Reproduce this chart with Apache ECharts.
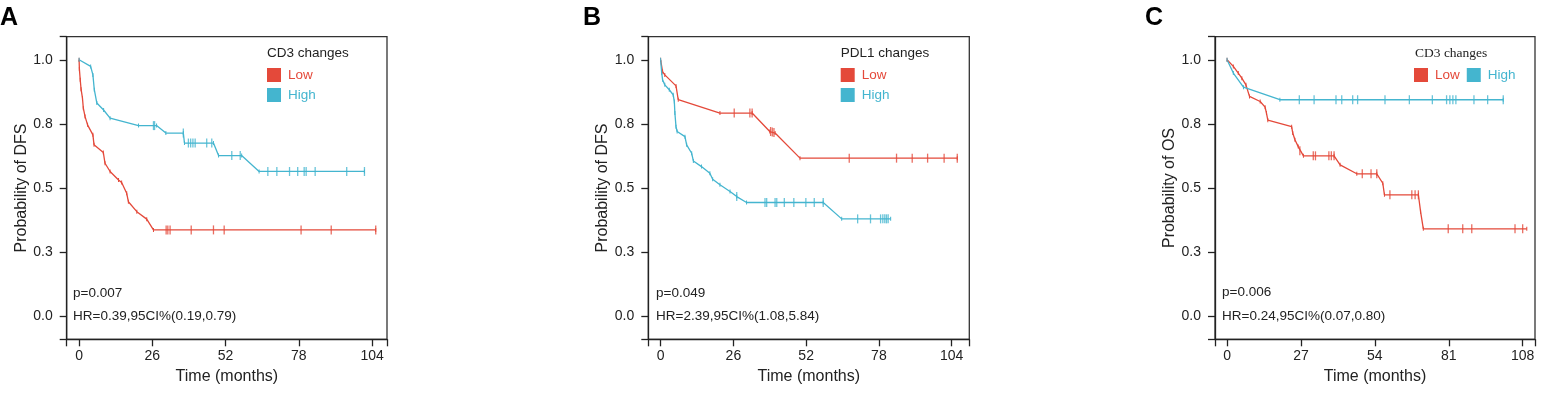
<!DOCTYPE html>
<html>
<head>
<meta charset="utf-8">
<script src="https://cdn.jsdelivr.net/npm/echarts@6/dist/echarts.min.js"></script>
<style>
  html, body { margin: 0; padding: 0; background: #fff; }
  #main { width: 1544px; height: 393px; }
</style>
</head>
<body>
<div id="main"></div>
<script>
// ---- data: [time (months), survival probability] ----
// panel A: CD3 changes, DFS
const aLowCurve = [[0, 1], [0.1, 0.964], [0.4, 0.922], [0.7, 0.885], [1.2, 0.85], [1.5, 0.811], [2.1, 0.779], [3.0, 0.746], [4.9, 0.707], [5.3, 0.668], [8.6, 0.638], [9.2, 0.596], [11, 0.564], [14, 0.531], [15.1, 0.521], [16.9, 0.479], [17.5, 0.446], [20.5, 0.407], [24, 0.378], [26.4, 0.336], [105.3, 0.336]]
const aLowCensor = [[30.9, 0.336], [31.5, 0.336], [32.3, 0.336], [39.8, 0.336], [47.7, 0.336], [51.5, 0.336], [78.8, 0.336], [89.5, 0.336], [105.3, 0.336]]
const aHighCurve = [[0, 1], [4.1, 0.974], [4.9, 0.941], [5.4, 0.883], [6.3, 0.831], [8.7, 0.804], [11, 0.772], [21.1, 0.743], [27.5, 0.743], [30.8, 0.714], [37, 0.714], [37.4, 0.675], [47.7, 0.675], [49.5, 0.626], [57.7, 0.626], [63.9, 0.564], [101.3, 0.564]]
const aHighCensor = [[26.4, 0.743], [26.8, 0.743], [37, 0.714], [38.8, 0.675], [39.6, 0.675], [40.4, 0.675], [41.2, 0.675], [45.3, 0.675], [47.1, 0.675], [54.2, 0.626], [57.2, 0.626], [67, 0.564], [70.2, 0.564], [74.7, 0.564], [77.6, 0.564], [79.9, 0.564], [80.6, 0.564], [83.8, 0.564], [95, 0.564], [101.3, 0.564]]

// panel B: PDL1 changes, DFS
const bLowCurve = [[0, 1], [0.7, 0.954], [1.5, 0.941], [5.5, 0.898], [6.3, 0.844], [21.2, 0.792], [32.7, 0.792], [39, 0.72], [40.9, 0.714], [49.8, 0.616], [106, 0.616]]
const bLowCensor = [[26.3, 0.792], [31.9, 0.792], [32.7, 0.792], [39.3, 0.72], [39.9, 0.718], [40.5, 0.716], [67.4, 0.616], [84.3, 0.616], [89.9, 0.616], [95.4, 0.616], [101.3, 0.616], [106, 0.616]]
const bHighCurve = [[0, 1], [0.4, 0.948], [0.7, 0.922], [1.5, 0.902], [3.1, 0.883], [4.5, 0.863], [4.9, 0.837], [5.1, 0.792], [5.5, 0.739], [5.9, 0.72], [8.7, 0.7], [9.3, 0.668], [11.1, 0.635], [11.7, 0.605], [14.6, 0.583], [17.6, 0.557], [18.6, 0.534], [21.2, 0.512], [24.8, 0.486], [27.2, 0.466], [30.7, 0.443], [58.1, 0.443], [64.7, 0.379], [82.2, 0.379]]
const bHighCensor = [[27.2, 0.466], [37.3, 0.443], [37.9, 0.443], [40.9, 0.443], [41.5, 0.443], [44.2, 0.443], [47.6, 0.443], [51.9, 0.443], [54.9, 0.443], [58.1, 0.443], [70.4, 0.379], [75, 0.379], [78.6, 0.379], [79.4, 0.379], [80.1, 0.379], [80.7, 0.379], [81.3, 0.379]]

// panel C: CD3 changes, OS
const cLowCurve = [[0, 1], [2.3, 0.974], [4.1, 0.948], [5.4, 0.928], [6.9, 0.902], [8.2, 0.857], [12.1, 0.837], [13.9, 0.815], [14.4, 0.792], [14.9, 0.764], [23.6, 0.739], [24, 0.714], [24.8, 0.688], [26, 0.661], [27.9, 0.625], [39.1, 0.625], [41.3, 0.59], [47.4, 0.555], [54.7, 0.555], [56.9, 0.518], [57.5, 0.473], [69.9, 0.473], [70.7, 0.407], [71.7, 0.34], [109.5, 0.34]]
const cLowCensor = [[26.6, 0.645], [31.5, 0.625], [32.3, 0.625], [37.2, 0.625], [38.1, 0.625], [39.1, 0.625], [49.4, 0.555], [52.6, 0.555], [54.7, 0.555], [59.5, 0.473], [67.5, 0.473], [68.7, 0.473], [69.9, 0.473], [80.8, 0.34], [86.1, 0.34], [89.4, 0.34], [105.2, 0.34], [108, 0.34]]
const cHighCurve = [[0, 1], [2.3, 0.948], [6, 0.893], [19.3, 0.844], [100.9, 0.844]]
const cHighCensor = [[26.4, 0.844], [31.8, 0.844], [39.8, 0.844], [41.9, 0.844], [45.9, 0.844], [47.7, 0.844], [57.7, 0.844], [66.6, 0.844], [75, 0.844], [80.2, 0.844], [81.4, 0.844], [82.5, 0.844], [83.6, 0.844], [90.2, 0.844], [95.2, 0.844], [100.9, 0.844]]

// axis ticks and labels
const yTickVals = [0, 0.25, 0.5, 0.75, 1]
const yTickLabels = ['0.0', '0.3', '0.5', '0.8', '1.0']
const xTicksAB = [0, 26, 52, 78, 104]
const xTicksC = [0, 27, 54, 81, 108]
const groupNames = ['Low', 'High']

const RED = '#E4493A'
const BLUE = '#44B5CF'
const INK = '#222'
const FONT = 'Liberation Sans, Arial, Helvetica, sans-serif'

const panels = [
  { left: 66.7, width: 320.3, xMax: 109.3, ticks: xTicksAB, yName: 'Probability of DFS', low: aLowCurve, lowC: aLowCensor, high: aHighCurve, highC: aHighCensor },
  { left: 648.3, width: 321, xMax: 110.3, ticks: xTicksAB, yName: 'Probability of DFS', low: bLowCurve, lowC: bLowCensor, high: bHighCurve, highC: bHighCensor },
  { left: 1215, width: 320, xMax: 112.5, ticks: xTicksC, yName: 'Probability of OS', low: cLowCurve, lowC: cLowCensor, high: cHighCurve, highC: cHighCensor }
]
const xMin = -4.4
const yMin = -0.091
const yMax = 1.09

const axisLine = { show: true, onZero: false, lineStyle: { color: INK, width: 1.3 } }

const grid = []
const xAxis = []
const yAxis = []
const series = []

panels.forEach((p, i) => {
  grid.push({
    left: p.left, top: 36.7, width: p.width, height: 302.6,
    show: true, borderColor: '#333', borderWidth: 1.3, backgroundColor: 'transparent'
  })
  xAxis.push({
    type: 'value', gridIndex: i, min: xMin, max: p.xMax,
    axisLine: axisLine,
    axisTick: { show: true, length: 7, customValues: [xMin].concat(p.ticks, [p.xMax]), lineStyle: { color: INK, width: 1.3 } },
    axisLabel: { customValues: p.ticks, fontSize: 14, color: INK, fontFamily: FONT, margin: 10 },
    splitLine: { show: false },
    name: 'Time (months)', nameLocation: 'middle', nameGap: 29,
    nameTextStyle: { fontSize: 16, color: INK, fontFamily: FONT }
  })
  yAxis.push({
    type: 'value', gridIndex: i, min: yMin, max: yMax,
    axisLine: axisLine,
    axisTick: { show: true, length: 7, customValues: [yMin].concat(yTickVals, [yMax]), lineStyle: { color: INK, width: 1.3 } },
    axisLabel: {
      customValues: yTickVals, fontSize: 14, color: INK, fontFamily: FONT, margin: 14,
      formatter: v => yTickLabels[yTickVals.indexOf(v)]
    },
    splitLine: { show: false },
    name: p.yName, nameLocation: 'middle', nameGap: 36,
    nameTextStyle: { fontSize: 16, color: INK, fontFamily: FONT }
  })
  const curves = [[p.low, p.lowC, RED], [p.high, p.highC, BLUE]]
  curves.forEach((c, k) => {
    series.push({
      name: groupNames[k], type: 'line', xAxisIndex: i, yAxisIndex: i,
      data: c[0], color: c[2],
      symbol: 'rect', symbolSize: [1, 4], showSymbol: true,
      lineStyle: { color: c[2], width: 1.3 },
      itemStyle: { color: c[2] },
      emphasis: { disabled: true }
    })
    series.push({
      name: groupNames[k] + ' censored', type: 'scatter', xAxisIndex: i, yAxisIndex: i,
      data: c[1], symbol: 'rect', symbolSize: [1.3, 9],
      itemStyle: { color: c[2] },
      emphasis: { disabled: true }
    })
  })
})

const legendItems = [
  { name: 'Low', textStyle: { color: RED } },
  { name: 'High', textStyle: { color: BLUE } }
]
const legendBase = {
  icon: 'rect', itemWidth: 14, itemHeight: 14, padding: 0, selectedMode: false,
  data: legendItems,
  textStyle: { fontSize: 13.5, lineHeight: 14, fontFamily: FONT, padding: [0, 0, 0, 2] }
}
const legend = [
  Object.assign({}, legendBase, { left: 267, top: 68, orient: 'vertical', itemGap: 6 }),
  Object.assign({}, legendBase, { left: 840.7, top: 68, orient: 'vertical', itemGap: 6 }),
  Object.assign({}, legendBase, { left: 1414, top: 68, orient: 'horizontal', itemGap: 7 })
]

function label (text, x, y, style) {
  return { type: 'text', x: x, y: y, style: Object.assign({ text: text, fill: INK, font: '13.5px ' + FONT, textVerticalAlign: 'middle' }, style) }
}

const graphic = [
  label('A', 0, 18, { font: 'bold 25px ' + FONT, fill: '#000' }),
  label('B', 583, 18, { font: 'bold 25px ' + FONT, fill: '#000' }),
  label('C', 1145, 18, { font: 'bold 25px ' + FONT, fill: '#000' }),
  label('CD3 changes', 267, 53),
  label('PDL1 changes', 840.7, 53),
  label('CD3 changes', 1415, 53, { font: '13.5px Liberation Serif, Times New Roman, serif' }),
  label('p=0.007', 73, 293),
  label('HR=0.39,95CI%(0.19,0.79)', 73, 316.5),
  label('p=0.049', 656, 293),
  label('HR=2.39,95CI%(1.08,5.84)', 656, 316.5),
  label('p=0.006', 1222, 292),
  label('HR=0.24,95CI%(0.07,0.80)', 1222, 316.5)
]

const myChart = echarts.init(document.getElementById('main'))
myChart.setOption({
  animation: false,
  backgroundColor: '#fff',
  grid: grid,
  xAxis: xAxis,
  yAxis: yAxis,
  legend: legend,
  graphic: graphic,
  series: series
})
</script>
</body>
</html>
